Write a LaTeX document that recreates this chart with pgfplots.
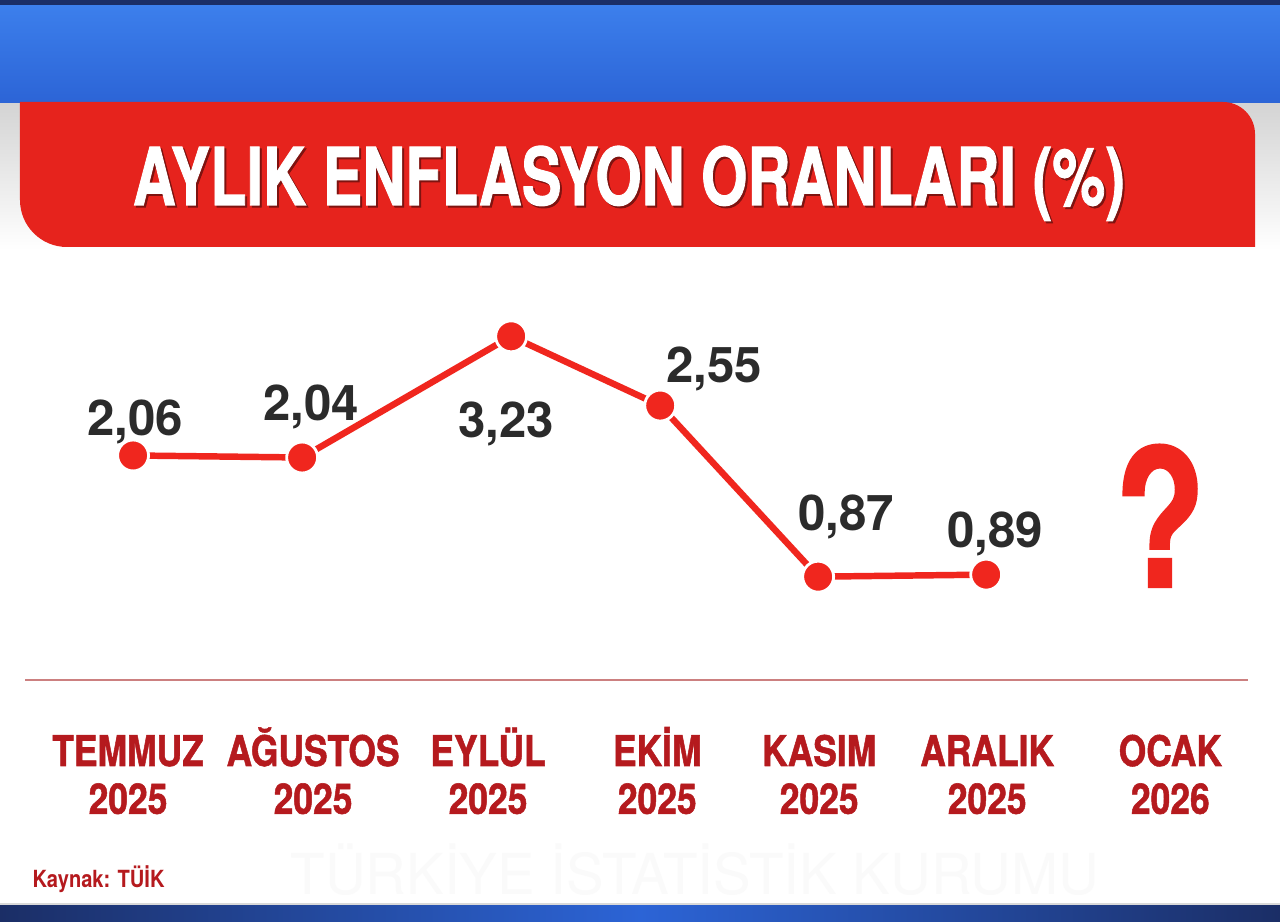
\documentclass[border=0pt]{standalone}
\usepackage{pgfplots}
\pgfplotsset{compat=1.18}
\usepackage{pgfplotstable}
\usepackage{graphicx}
\usepackage{fontspec}
\setmainfont{TeX Gyre Heros}
\newfontfamily\heavyfont{TeX Gyre Heros}[BoldFeatures={FakeBold=1.3}]

\definecolor{lineRed}{HTML}{F0261E}
\definecolor{barRed}{HTML}{E6231D}
\definecolor{catRed}{HTML}{B51A1E}
\definecolor{valGray}{HTML}{2B2B2B}
\definecolor{baseRed}{HTML}{CC8080}
\definecolor{bandBlue}{HTML}{2C64D6}
\definecolor{bandBlueTop}{HTML}{3C7FEC}
\definecolor{bandDark}{HTML}{1B2E66}

% x: month slot as laid out in the graphic, y: monthly inflation (%)
% dx/dy: label offset from the point (pt)
\pgfplotstableread{
x     y     dx    dy     lab
0.029 2.06  0.7   7.1    2,06
1.002 2.04  3.2   13.2   2,04
2.205 3.23  -1.8  -35.9  3,23
3.063 2.55  19.2  8.2    2,55
3.972 0.87  10.0  16.4   0,87
4.939 0.89  3.2   9.6    0,89
}\enf

\newcommand\cat[2]{\scalebox{0.84}[1]{\begin{tabular}{@{}c@{}}\smash{#1}\\#2\end{tabular}}}

\begin{document}
\begin{tikzpicture}
% frame of the TV graphic, in pixel units
\begin{scope}[x=0.0125cm,y=0.0125cm]
  \fill[white] (0,0) rectangle (1280,921);
  \shade[top color=black!17, bottom color=white] (0,671) rectangle (1280,818);
  \shade[top color=bandBlueTop, bottom color=bandBlue] (0,818) rectangle (1280,916);
  \fill[bandDark] (0,916) rectangle (1280,921);
  \fill[barRed] (20,819) -- (1223,819) arc[start angle=90, end angle=0, radius=0.4cm]
    -- (1255,674) -- (67,674) arc[start angle=270, end angle=180, radius=0.5875cm] -- cycle;
  \node[anchor=base, text=black!45!barRed, font=\heavyfont\bfseries\fontsize{28.4}{30}\selectfont]
    at (631,714) {\resizebox{12.4cm}{\height}{AYLIK ENFLASYON ORANLARI (\%)}};
  \node[anchor=base, text=white, font=\heavyfont\bfseries\fontsize{28.4}{30}\selectfont]
    at (629,716) {\resizebox{12.4cm}{\height}{AYLIK ENFLASYON ORANLARI (\%)}};
  \node[text=black!2, font=\fontsize{20}{20}\selectfont] at (695,51)
    {\resizebox{10.1cm}{\height}{TÜRKİYE İSTATİSTİK KURUMU}};
  \fill[black!15] (0,16) rectangle (1280,18);
  \shade[left color=bandDark, right color=bandDark, middle color=bandBlue] (0,0) rectangle (1280,16);
  \node[anchor=base west, inner sep=0pt, text=catRed, font=\bfseries\fontsize{8.4}{9}\selectfont]
    at (32,34) {\scalebox{0.85}[1]{Kaynak: TÜİK}};
\end{scope}

\begin{axis}[
  at={(0.3125cm,3.0125cm)}, anchor=south west,
  scale only axis, width=15.2875cm, height=4.6375cm,
  xmin=-0.593, xmax=6.448, ymin=-0.144, ymax=3.5,
  axis x line*=bottom, axis y line=none,
  x axis line style={-, draw=baseRed, line width=0.7pt},
  xtick={0,1.065,2.072,3.046,3.978,4.945,5.999},
  xticklabels={\cat{TEMMUZ}{2025},\cat{AĞUSTOS}{2025},\cat{EYLÜL}{2025},\cat{EKİM}{2025},
    \cat{KASIM}{2025},\cat{ARALIK}{2025},\cat{OCAK}{2026}},
  major tick length=0pt,
  xticklabel style={anchor=north, inner sep=0pt, yshift=-18.5pt, text=catRed,
    font=\heavyfont\bfseries\fontsize{15}{17}\selectfont},
  clip=false,
]
\addplot[lineRed, line width=2.3pt, line join=round, mark=*, mark size=5.5pt,
  mark options={fill=lineRed, draw=white, line width=1pt},
  nodes near coords, point meta=explicit symbolic,
  visualization depends on={\thisrow{dx}\as\dx},
  visualization depends on={\thisrow{dy}\as\dy},
  every node near coord/.append style={anchor=base, inner sep=0pt, xshift=\dx pt, yshift=\dy pt,
    text=valGray, font=\bfseries\fontsize{17.5}{18}\selectfont}
] table[x=x, y=y, meta=lab] {\enf};
\end{axis}

\begin{scope}[x=0.0125cm,y=0.0125cm]
  \node[anchor=base, inner sep=0pt, text=lineRed, font=\heavyfont\bfseries\fontsize{68}{68}\selectfont]
    at (1160,334) {\scalebox{0.78}[1]{?}};
\end{scope}
\end{tikzpicture}
\end{document}
